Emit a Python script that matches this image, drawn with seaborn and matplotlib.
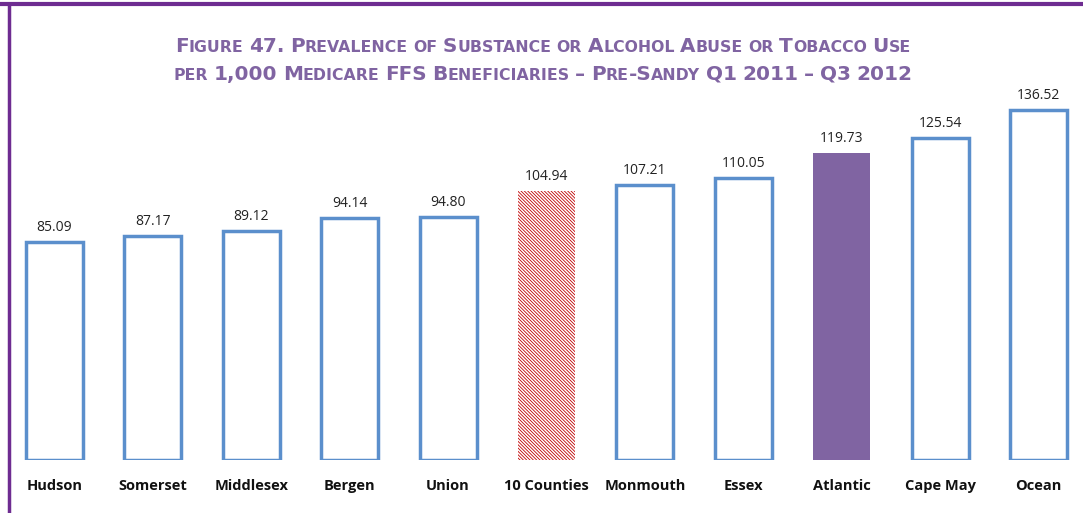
import matplotlib
matplotlib.use("Agg")
import matplotlib.pyplot as plt
import seaborn as sns
from matplotlib import font_manager
from matplotlib.lines import Line2D

# Data
counties = ["Hudson", "Somerset", "Middlesex", "Bergen", "Union", "10 Counties",
            "Monmouth", "Essex", "Atlantic", "Cape May", "Ocean"]
values = [85.09, 87.17, 89.12, 94.14, 94.80, 104.94, 107.21, 110.05, 119.73, 125.54, 136.52]

title_line1 = "Figure 47. Prevalence of Substance or Alcohol Abuse or Tobacco Use"
title_line2 = "per 1,000 Medicare FFS Beneficiaries \u2013 Pre-Sandy Q1 2011 \u2013 Q3 2012"

blue = "#5B8FCC"
purple = "#8064A2"
frame_purple = "#6E2C91"
red = "#C00000"

sns.set_style("white")
available = {f.name for f in font_manager.fontManager.ttflist}
narrow = "Liberation Sans Narrow" if "Liberation Sans Narrow" in available else "DejaVu Sans"
plt.rcParams["font.family"] = ["Open Sans", "DejaVu Sans"]
plt.rcParams["hatch.linewidth"] = 0.6

fig = plt.figure(figsize=(10.83, 5.13), dpi=100)
ax = fig.add_axes([10 / 1083, 53 / 513, 1073 / 1083, 365 / 513])

sns.barplot(x=counties, y=values, color="white", edgecolor=blue, linewidth=2.5,
            width=0.58, saturation=1, ax=ax)

for name, patch in zip(counties, ax.patches):
    if name == "10 Counties":
        patch.set_facecolor("white")
        patch.set_edgecolor(red)
        patch.set_hatch("\\" * 10)
        patch.set_linewidth(0)
    elif name == "Atlantic":
        patch.set_facecolor(purple)
        patch.set_edgecolor(purple)
        patch.set_linewidth(0)

ax.bar_label(ax.containers[0], labels=[f"{v:.2f}" for v in values],
             padding=5, fontsize=10, color="#222222")

ax.set_xlim(-0.45, 10.45)
ax.set_ylim(0, 142.2)
ax.set_yticks([])
ax.set_ylabel("")
ax.tick_params(axis="x", length=0, pad=14)
for lab in ax.get_xticklabels():
    lab.set_fontweight("bold")
    lab.set_fontsize(10.5)
    lab.set_color("#111111")
for s in ax.spines.values():
    s.set_visible(False)

# frame lines
fig.add_artist(Line2D([0, 1], [1 - 4 / 513, 1 - 4 / 513], transform=fig.transFigure,
                      color=frame_purple, linewidth=3))
fig.add_artist(Line2D([9 / 1083, 9 / 1083], [0, 1 - 4 / 513], transform=fig.transFigure,
                      color=frame_purple, linewidth=2.5))


# small caps title, built from text runs placed side by side
def small_caps_line(text, y, big=14.4, small=11.3):
    runs = []
    for word_i, word in enumerate(text.split(" ")):
        if word_i > 0:
            runs.append((" ", small))
        cur, cur_big = "", None
        for ch in word:
            is_big = not ch.islower()
            if cur_big is None or is_big == cur_big:
                cur += ch.upper()
            else:
                runs.append((cur, big if cur_big else small))
                cur = ch.upper()
            cur_big = is_big
        runs.append((cur, big if cur_big else small))
    arts = [fig.text(0, y, txt, fontsize=size, fontweight="bold", color=purple,
                     family=narrow, va="baseline", ha="left") for txt, size in runs]
    fig.canvas.draw()
    r = fig.canvas.get_renderer()
    x = 0.0
    xs = []
    for a in arts:
        xs.append(x)
        x += a.get_window_extent(r).width / fig.bbox.width
    start = 543 / 1083 - x / 2
    for a, xx in zip(arts, xs):
        a.set_position((start + xx, y))


small_caps_line(title_line1, 1 - 52 / 513)
small_caps_line(title_line2, 1 - 80 / 513)

fig.savefig("out.png", dpi=100)
